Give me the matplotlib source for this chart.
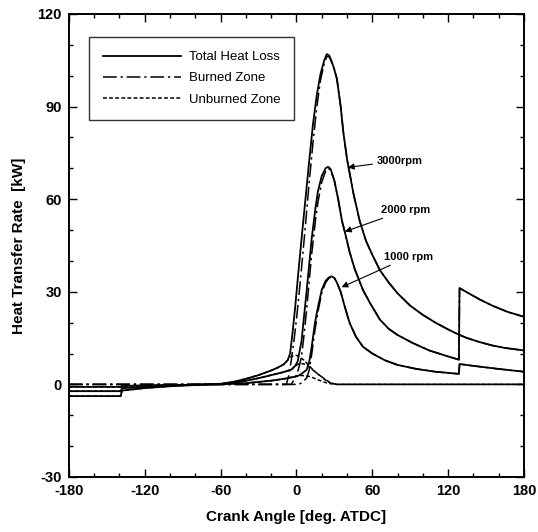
import matplotlib
matplotlib.use('Agg')
from matplotlib import pyplot as plt
from matplotlib.ticker import MultipleLocator


# Total heat loss [kW] vs crank angle [deg ATDC]
t3_ang = [-180, -139, -138, -120, -100, -80, -60, -50, -40, -30, -20, -15, -10, -7, -5, -3, -1, 1, 4, 7, 10, 13,
          16, 19, 22, 24, 26, 28, 30, 32, 35, 37, 40, 45, 50, 55, 60, 66, 73, 80, 90, 100, 110, 120, 128, 135,
          145, 155, 165, 180]
t3_val = [-3.8, -3.8, -2.0, -1.2, -0.6, -0.2, 0.2, 0.8, 1.8, 3.0, 4.5, 5.4, 6.5, 7.8, 10, 17, 25, 34, 47, 59.5, 72,
          84, 93.5, 100.5, 105, 107, 106.5, 104.5, 102, 99, 90, 82, 73, 62, 53, 46.5, 42, 37, 33, 29.5, 25.5, 22.5,
          20, 17.8, 16.2, 15, 13.7, 12.6, 11.8, 11]

t2_ang = [-180, -139, -138, -120, -100, -80, -60, -50, -40, -30, -20, -10, -4, -1, 1, 4, 6, 8, 10, 12, 15, 17, 20,
          23, 25, 27, 30, 33, 36, 38.5, 42, 46, 52.6, 58, 66, 73, 80, 92, 105, 118, 128.5, 129, 135, 145, 155, 167,
          180]
t2_val = [-2.2, -2.2, -1.2, -0.8, -0.4, -0.1, 0.1, 0.5, 1.2, 2.0, 3.0, 4.0, 4.8, 6.0, 7.5, 14, 22, 30, 38.5, 47, 57,
          62.5, 67.5, 70, 70.5, 69.8, 66, 60, 53, 49, 43, 37.5, 30.6, 26.5, 21, 18, 16, 13.4, 11, 9.3, 8, 31.2, 29.8,
          27.5, 25.5, 23.5, 21.9]

t1_ang = [-180, -139, -138, -100, -60, -40, -20, -10, 0, 2, 4, 8, 10, 12, 14.6, 17, 20, 23, 25.5, 27.8, 30, 32, 35,
          38, 42, 47, 52.6, 60, 70, 80, 95, 110, 128.5, 129, 140, 160, 180]
t1_val = [-0.8, -0.8, -0.5, -0.2, 0, 0.4, 1.2, 1.8, 2.6, 2.9, 3.4, 4.7, 7, 12, 19.8, 25, 30.6, 33.5, 34.6, 35, 34.5,
          33, 30, 25.5, 20, 15.5, 12.2, 10, 7.8, 6.3, 5, 4.1, 3.4, 6.6, 6, 5, 4.1]

# Burned zone (until it merges with the total)
b3_ang = [-180, -8, -6, -4, -2, 0, 2, 4, 7, 10, 13, 16, 19, 22, 24, 26, 28, 30]
b3_val = [0, 0, 3, 8, 14, 21, 29, 37.5, 51, 65, 78, 89.5, 98.5, 104, 106.2, 106.1, 104.2, 101.9]

b2_ang = [-180, -4, -2, 0, 2, 4, 6, 8, 10, 12, 15, 17, 20, 23, 25, 27, 30]
b2_val = [0, 0, 1.5, 3, 5.5, 9, 16, 24, 33, 42, 53, 59, 65.5, 69, 70, 69.5, 66]

b1_ang = [-180, 2, 4, 8, 10, 12, 14.6, 17, 20, 23, 25.5, 27.8, 30, 32]
b1_val = [0, 0, 0.5, 2, 4.5, 9.5, 17.5, 23.5, 29.6, 32.9, 34.3, 34.9, 34.4, 33]

# Unburned zone (equal to the total before ignition)
u3_ang = [-180, -139, -138, -120, -100, -80, -60, -50, -40, -30, -20, -15, -10, -7, -5, -2, 0, 3, 6, 9, 12, 15,
          18, 20, 22, 24, 26, 28, 30, 32, 180]
u3_val = [-3.8, -3.8, -2.0, -1.2, -0.6, -0.2, 0.2, 0.8, 1.8, 3.0, 4.5, 5.4, 6.5, 7.8, 8.8, 9.4, 9.4, 8.8, 7.8, 6.5,
          5.2, 4, 3, 2.5, 1.7, 1.1, 0.6, 0.3, 0.1, 0, 0]

u2_ang = [-180, -139, -138, -120, -100, -80, -60, -50, -40, -30, -20, -10, -4, -1, 1, 3, 6, 9, 12, 15, 18, 20, 22,
          24, 26, 28, 30, 33, 180]
u2_val = [-2.2, -2.2, -1.2, -0.8, -0.4, -0.1, 0.1, 0.5, 1.2, 2.0, 3.0, 4.0, 4.8, 5.8, 6.5, 6.8, 6.6, 6, 5, 4, 3, 2.5,
          1.8, 1.3, 0.8, 0.4, 0.2, 0, 0]

u1_ang = [-180, -139, -138, -100, -60, -40, -20, -10, 0, 2, 4, 8, 11, 14, 17, 20, 23, 26, 29, 32, 180]
u1_val = [-0.8, -0.8, -0.5, -0.2, 0, 0.4, 1.2, 1.8, 2.6, 2.9, 2.9, 2.7, 2.5, 2.0, 1.5, 1.0, 0.6, 0.3, 0.1, 0, 0]

speed_labels = ['3000rpm', '2000 rpm', '1000 rpm']


plt.rcParams['font.family'] = ['Liberation Sans', 'DejaVu Sans']
plt.rcParams['axes.unicode_minus'] = False

fig = plt.figure(figsize=(5.38, 5.32), dpi=100)
ax = fig.add_axes([0.128, 0.1034, 0.846, 0.8703])

dashdot = (0, (9, 2.5, 1.5, 2.5))
dashed = (0, (2.5, 1.5))
lw = 1.1

speeds = [
    (t3_ang, t3_val, b3_ang, b3_val, u3_ang, u3_val),
    (t2_ang, t2_val, b2_ang, b2_val, u2_ang, u2_val),
    (t1_ang, t1_val, b1_ang, b1_val, u1_ang, u1_val),
]

for i, (ta, tv, ba, bv, ua, uv) in enumerate(speeds):
    # burned zone follows the total once the unburned zone is gone
    tail = [k for k, a in enumerate(ta) if a > ba[-1]]
    ba_full = ba + [ta[k] for k in tail]
    bv_full = bv + [tv[k] for k in tail]
    ax.plot(ua, uv, color='black', lw=lw, linestyle=dashed,
            label='Unburned Zone' if i == 0 else None)
    ax.plot(ba_full, bv_full, color='black', lw=lw, linestyle=dashdot,
            label='Burned Zone' if i == 0 else None)
    ax.plot(ta, tv, color='black', lw=lw + 0.2, linestyle='-',
            label='Total Heat Loss' if i == 0 else None)

# speed annotations
ann_text = [(63.5, 72.5), (67, 56.5), (69.5, 41.3)]
ann_tip = [(40.7, 70.3), (38.4, 49.5), (35.7, 31.5)]
for lab, txt, tip in zip(speed_labels, ann_text, ann_tip):
    ax.annotate(lab, xy=tip, xytext=txt, fontsize=8, fontweight='bold', va='center', ha='left',
                arrowprops=dict(arrowstyle='-|>', color='black', lw=0.8, mutation_scale=9,
                                shrinkA=1, shrinkB=0))

ax.set_xlim(-180, 180)
ax.set_ylim(-30, 120)
ax.xaxis.set_major_locator(MultipleLocator(60))
ax.xaxis.set_minor_locator(MultipleLocator(20))
ax.yaxis.set_major_locator(MultipleLocator(30))
ax.yaxis.set_minor_locator(MultipleLocator(10))
ax.tick_params(which='both', direction='in', top=True, right=True, width=1.0)
ax.tick_params(which='major', length=6, labelsize=10.5, pad=5)
ax.tick_params(which='minor', length=3)
for lbl in ax.get_xticklabels() + ax.get_yticklabels():
    lbl.set_fontweight('bold')
for s in ax.spines.values():
    s.set_linewidth(1.4)

ax.set_xlabel('Crank Angle [deg. ATDC]', fontsize=11, fontweight='bold', labelpad=9)
ax.set_ylabel('Heat Transfer Rate  [kW]', fontsize=11, fontweight='bold', labelpad=8)

handles, labels = ax.get_legend_handles_labels()
order = [labels.index('Total Heat Loss'), labels.index('Burned Zone'), labels.index('Unburned Zone')]
leg = ax.legend([handles[k] for k in order], [labels[k] for k in order],
                loc='upper left', bbox_to_anchor=(0.044, 0.95), fontsize=9.5, frameon=True,
                fancybox=False, edgecolor='black', handlelength=5.9, handletextpad=0.6,
                labelspacing=0.68, borderpad=1.05, borderaxespad=0)
leg.get_frame().set_linewidth(1.0)

fig.savefig('out.png', dpi=100)
